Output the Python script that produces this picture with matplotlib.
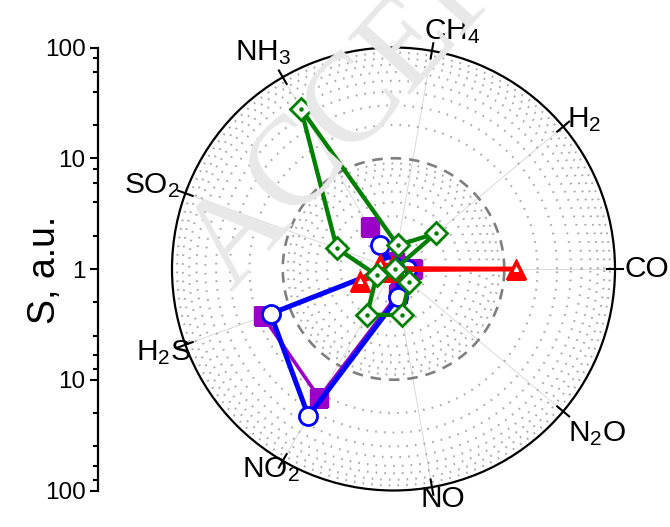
import numpy as np
import matplotlib
matplotlib.use("Agg")
import matplotlib.pyplot as plt

plt.rcParams['font.family'] = ['Liberation Sans', 'DejaVu Sans']
plt.rcParams['mathtext.default'] = 'regular'

# Gases placed around the polar plot (counter-clockwise from the right)
gases = ["CO", "H$_2$", "CH$_4$", "NH$_3$", "SO$_2$", "H$_2$S", "NO$_2$", "NO", "N$_2$O"]
angles_deg = [0, 40, 80, 120, 160, 200, 240, 280, 320]

# Responses S (a.u.) for each gas, same order as `gases`
s_purple = [1.5, 1.1, 1.15, 2.71, 1.1, 17.9, 22.0, 1.7, 1.2]
s_blue = [1.33, 1.0, 1.05, 1.78, 1.1, 15.2, 34.3, 1.8, 1.1]
s_red = [12.9, 1.02, 1.05, 1.08, 1.35, 2.1, 1.05, 1.05, 1.03]
s_green = [1.03, 3.17, 1.65, 47.0, 3.5, 1.45, 3.0, 2.64, 1.54]

left_ticks = [-2, -1, 0, 1, 2]
left_labels = ["100", "10", "1", "10", "100"]

W, H = 670, 527
fig = plt.figure(figsize=(W / 100, H / 100), dpi=100)

# faint diagonal watermark
fig.text(232 / W, 1 - 292 / H, "ACCEPTED MANUSCRIPT", family="Liberation Serif",
         fontsize=92, color="#e8e8e8", rotation=48, rotation_mode="anchor",
         ha="left", va="baseline", zorder=0)

cx, cy, R = 393.5, 269.0, 221.5
ax = fig.add_axes([(cx - R) / W, (H - cy - R) / H, 2 * R / W, 2 * R / H],
                  projection="polar")
ax.patch.set_alpha(0)
ax.set_ylim(0, 2)
ax.set_xticks([])
ax.set_yticks([])
ax.grid(False)
ax.spines["polar"].set_linewidth(1.6)
ax.spines["polar"].set_color("black")

theta = np.deg2rad(angles_deg)
full = np.linspace(0, 2 * np.pi, 361)

# radial grid lines
for t in theta:
    ax.plot([t, t], [0, 2], color="#d4d4d4", lw=0.6, zorder=1)

# log circles: dotted minor, dashed at S = 10
for dec in (0, 1):
    for k in range(2, 10):
        ax.plot(full, np.full_like(full, dec + np.log10(k)), color="#a8a8a8",
                lw=1.5, linestyle=(0, (0.8, 3.4)), zorder=1)
ax.plot(full, np.ones_like(full), color="#7f7f7f", lw=1.9,
        linestyle=(0, (4, 3)), zorder=1.5)

# ticks on the outer circle
for t in theta:
    ax.plot([t, t], [1.93, 2.07], color="black", lw=1.5, clip_on=False, zorder=5)

tc = np.append(theta, theta[0])


def closed(vals):
    v = np.log10(np.asarray(vals, dtype=float))
    return np.append(v, v[0])


ax.plot(tc, closed(s_purple), color="#9b00c6", lw=2.6, zorder=2)
ax.plot(theta, np.log10(s_purple), ls="none", marker="s", ms=12.5,
        mfc="#9b00c6", mec="#9b00c6", zorder=2.1)

ax.plot(tc, closed(s_blue), color="#0000ff", lw=3.6, zorder=3)
ax.plot(theta, np.log10(s_blue), ls="none", marker="o", ms=13,
        mfc="white", mec="#0000ff", mew=2.0, zorder=3.1)

ax.plot(tc, closed(s_red), color="#ff0000", lw=3.2, zorder=4)
ax.plot(theta, np.log10(s_red), ls="none", marker="^", ms=14,
        mfc="#ff0000", mec="#ff0000", mew=1.0, zorder=4.1)
# small white notch inside each triangle
ax.plot(theta, np.log10(s_red), ls="none", marker=(3, 0, 0), ms=4.5,
        mfc="white", mec="none", zorder=4.2)

ax.plot(tc, closed(s_green), color="#008000", lw=3.1, zorder=6)
ax.plot(theta, np.log10(s_green), ls="none", marker="D", ms=11,
        mfc="white", mec="#008000", mew=2.0, zorder=6.1)
ax.plot(theta, np.log10(s_green), ls="none", marker="o", ms=2.2,
        mfc="#008000", mec="#008000", zorder=6.2)

# gas labels, nudged slightly off their spokes
label_r = [2.29, 2.19, 2.21, 2.28, 2.31, 2.21, 2.12, 2.12, 2.36]
label_shift = [0, -2, -4, 1, 1, 0, -1.5, 2, 1]
for t, r, d, name in zip(theta, label_r, label_shift, gases):
    ax.text(t + np.deg2rad(d), r, name, fontsize=21.5, ha="center",
            va="center", clip_on=False)

# separate log axis for S
ax2 = fig.add_axes([98 / W, (H - cy - R) / H, 0.0005, 2 * R / H])
ax2.set_ylim(-2, 2)
ax2.set_xticks([])
for s in ("top", "right", "bottom"):
    ax2.spines[s].set_visible(False)
ax2.spines["left"].set_linewidth(1.6)
ax2.set_yticks(left_ticks)
ax2.set_yticklabels(left_labels)
minor = []
for dec in (0, 1):
    for k in (2, 4, 6, 8):
        minor += [dec + np.log10(k), -(dec + np.log10(k))]
ax2.set_yticks(sorted(minor), minor=True)
ax2.tick_params(axis="y", which="major", direction="out", length=6, width=1.5,
                labelsize=17.5, pad=3)
ax2.tick_params(axis="y", which="minor", direction="out", length=3.5, width=1.5)
ax2.patch.set_alpha(0)

fig.text(45 / W, 1 - 270 / H, "S, a.u.", rotation=90, fontsize=27,
         ha="center", va="center")

fig.savefig("out.png", dpi=100)
